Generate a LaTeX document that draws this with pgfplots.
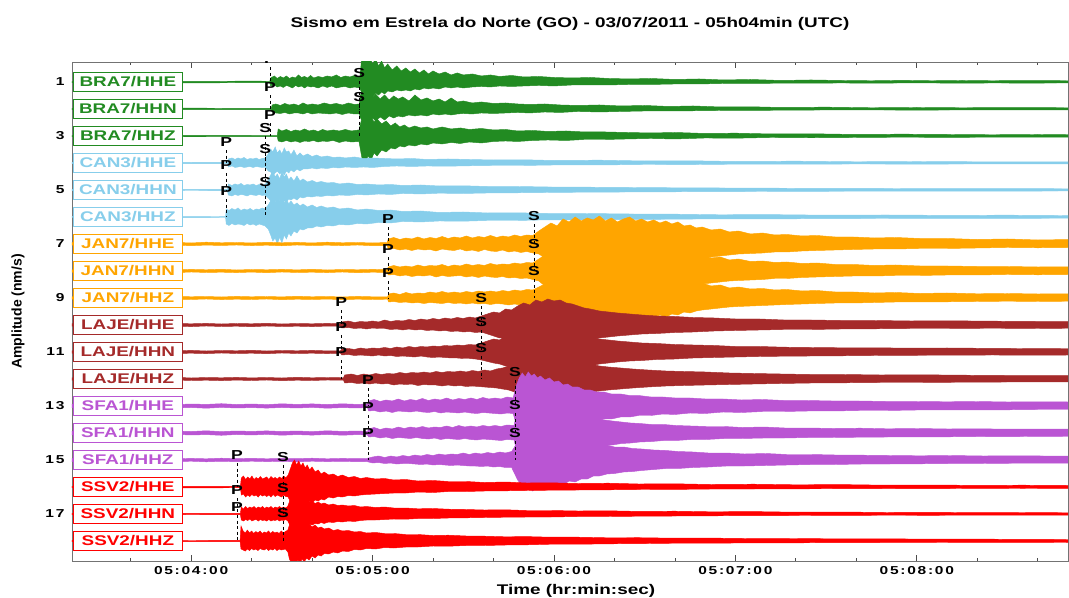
\documentclass[border=0pt]{standalone}
\usepackage{fontspec}
\setmainfont{Liberation Sans}
\newfontfamily\wfont{Liberation Sans}[FakeStretch=1.35]
\newfontfamily\tfont{Liberation Sans}[FakeStretch=1.35,LetterSpace=15]
\usepackage{pgfplots}
\usepackage{pgfplotstable}
\pgfplotsset{compat=1.18}
\usepgfplotslibrary{fillbetween}

\definecolor{cBRA}{RGB}{34,139,34}
\definecolor{cCAN}{RGB}{135,206,235}
\definecolor{cJAN}{RGB}{255,165,0}
\definecolor{cLAJ}{RGB}{165,42,42}
\definecolor{cSFA}{RGB}{186,85,211}
\definecolor{cSSV}{RGB}{255,0,0}

% envelopes: t = seconds after 05:04:00, u/d = half amplitude up/down (px, 27 px per trace)
\pgfplotstableread{
t u d
-40 0.7 0.7
-20 0.9 0.6
0 0.6 0.9
20 0.8 0.7
26.0 0.7 0.7
26.3 4 4
27.5 6 3
28.5 3.5 5
29.5 5.5 4
30.5 4 5.5
31.5 6 3.5
32.5 3.5 4.5
33.5 5 6
34.5 4 3.5
35.5 7 5
36.5 4.5 4
37.5 5.5 6
38.5 4 4
39.5 6.5 5
40.5 4 4.5
42 5.5 6
43.5 4.5 4
45 6 5.5
46.5 5 4
48 7 6
49.5 4.5 5
51 6 4.5
52.5 5 6
54 6.5 5
55.8 5 6
56.3 20 10
57 26 14
58 22 16
59 25 12
60 18 15
61 23 11
62 16 13
63 21 10
64 14 12
65 18 9
66.5 12 10
68 16 8
69.5 11 9
71 14 8
72.5 10 9
74 13 7
75.5 9 8
77 12 6
78.5 8 7
80 11 6
82 8 7
84 10 5
86 7 6
88 9 5
90 7 6
93 8 5
96 6 4.5
99 7 5
102 5.5 4
106 6.5 4.5
110 5 4
115 5.5 3.5
120 4.5 4
126 4 3
132 4.5 3
138 3.5 3
145 3 2.5
152 3.5 2.5
160 2.5 2
168 3 2
176 2 1.5
185 2.5 1.5
195 1.5 1.2
205 2 1.2
215 1.5 1
225 1.2 1.2
235 1.6 1
245 1.2 1
255 1.5 1.2
265 1.2 1
275 1.4 1.1
291 1.2 1
}\tA
\pgfplotstableread{
t u d
-40 0.7 0.7
-20 0.6 0.8
0 0.8 0.6
20 0.6 0.7
26.5 0.7 0.7
26.8 4 3
28 5 4
29.5 3.5 4.5
31 5.5 3.5
32.5 4 5
34 5 4
35.5 3.5 4
37 6 5
38.5 4 3.5
40 5 5
42 4 4
44 6 4.5
46 4.5 5
48 5.5 4
50 4 5.5
52 6 4
54 4.5 5
55.6 5 5
56.0 14 9
57 18 13
58 13 10
59 17 15
60 12 9
61 15 12
62.5 10 8
64 14 11
65.5 9 7
67 13 9
68.5 10 7
70 12 8
72 8 6
74 14 7
76 9 6
78 11 7
80 8 5
82 10 6
84 7 5
86 11 6
88 7 5
90 8 4.5
93 6 5
96 7 4
100 5.5 4.5
104 6 4
108 5 3.5
112 4.5 4
117 5 3
122 4 3.5
128 3.5 2.5
135 4 3
142 3 2.5
150 3.5 2
158 2.5 2
166 3 1.8
175 2 1.5
185 2.2 1.5
195 1.5 1.2
210 1.8 1
225 1.2 1
240 1.5 1.1
255 1.2 1
270 1.4 1
291 1.2 1
}\tB
\pgfplotstableread{
t u d
-40 0.7 0.7
-20 0.8 0.6
0 0.6 0.8
20 0.7 0.7
28.5 0.7 0.7
28.8 7 5
30 5 6
31.5 6.5 4.5
33 4.5 6
34.5 6 5
36 5 6.5
37.5 7 5
39 5 5.5
40.5 6 4.5
42 4.5 6
43.5 6.5 5
45 5 5.5
47 6 4.5
49 5 6.5
51 6.5 5
53 5 6
55.5 6 5.5
56.5 18 22
57.5 21 26
58.5 16 20
59.5 19 24
60.5 14 17
61.5 17 20
63 12 14
64.5 15 16
66 10 12
67.5 13 13
69 9 10
70.5 11 11
72 8 9
74 10 10
76 8 8
78 9 9
80 7 7
83 9 8
86 7 6.5
89 8 7.5
92 6.5 6
96 7.5 7
100 6 5.5
104 6.5 5
108 5 5.5
113 5.5 4.5
118 4.5 4
124 5 4.5
130 4 3.5
137 4 3.5
144 3.5 3
152 3 2.5
160 3.5 3
170 2.5 2
180 2.8 2.2
192 2 1.5
205 2.2 1.8
220 1.5 1.5
235 1.8 1.2
250 1.5 1.4
265 1.2 1.2
280 1.5 1.2
291 1.2 1.2
}\tC
\pgfplotstableread{
t u d
-40 0.6 0.6
-20 0.7 0.5
0 0.5 0.7
12.0 0.6 0.6
12.3 4 4
13.5 5 3
14.5 3.5 4.5
15.5 5 4
16.5 4 3.5
17.5 5.5 4.5
18.5 3.5 4
19.5 4.5 3.5
20.5 4 4.5
21.5 5 3.5
22.5 3.5 4
23.5 4.5 4.5
24.5 5 4
25.5 9 8
26.3 14 9
27 11 12
27.8 16 10
28.5 10 8
29.3 13 11
30 9 9
30.8 15 12
31.5 11 8
32.3 12 10
33 8 7
34 13 9
35 7 6
36 10 8
37 7 6
38.5 9 6
40 6.5 5
41.5 8 6
43 6 5
45 7 5.5
47 5.5 4.5
49 6 5
51 5 4
54 6 4.5
57 4.5 4
60 5 4.5
64 4.5 3.5
68 4 3
73 4.5 3.5
78 3.5 3
85 4 3.2
92 3.5 2.8
100 3 2.5
110 3.2 2.5
120 2.5 2
135 2.8 2
150 2 1.5
165 2.2 1.6
180 1.5 1.2
200 1.8 1.2
220 1.2 1
240 1.5 1.1
260 1.2 1
291 1 1
}\tD
\pgfplotstableread{
t u d
-40 0.6 0.6
-20 0.5 0.7
0 0.7 0.5
12.0 0.6 0.6
12.3 6 5
13.5 4.5 6
14.5 6 4.5
15.5 5 5.5
16.5 6.5 4.5
17.5 4.5 5
18.5 5.5 6
19.5 5 4.5
20.5 6 5
21.5 4.5 5.5
22.5 5.5 4.5
23.5 5 5.5
24.5 5.5 5
25.5 10 8
26.3 15 11
27 19 14
27.8 13 10
28.5 16 13
29.3 11 9
30 18 14
30.8 13 11
31.5 16 12
32.3 10 9
33 13 10
34 9 8
35 14 10
36 9 7
37 11 8
38.5 8 6.5
40 9.5 7
41.5 7.5 6
43 8.5 6.5
45 7 5.5
47 7.5 6
49 6 5
52 7 5.5
55 5.5 4.5
58 6 5
62 5 4
66 5.5 4.5
70 4.5 3.5
76 5 4
82 4 3.2
90 4.2 3.5
98 3.5 3
108 3.5 2.8
118 3 2.5
130 2.8 2.2
145 2.5 2
160 2.2 1.8
175 2 1.6
190 1.8 1.5
210 1.6 1.3
230 1.5 1.2
250 1.3 1.1
270 1.4 1.1
291 1.2 1
}\tE
\pgfplotstableread{
t u d
-40 0.5 0.5
-20 0.6 0.4
0 0.4 0.6
11.4 0.5 0.5
11.6 8 7
12.5 6.5 8.5
13.5 8.5 6.5
14.5 7 8
15.5 9 7
16.5 6.5 7.5
17.5 8 8.5
18.5 7 6.5
19.5 8.5 8
20.5 6.5 7
21.5 8 8.5
22.5 7.5 7
23.5 9 8
24.5 8 9
25.5 12 12
26.3 16 18
27 20 24
27.8 15 21
28.5 21 27
29.3 16 20
30 19 26
30.8 14 18
31.5 18 22
32.3 13 16
33 16 19
34 12 14
35 14 16
36 11 12
37 13 13
38.5 10 11
40 12 11
41.5 9.5 9
43 11 10
45 9 8.5
47 10 9
49 8 7.5
52 9 8
55 7 6.5
58 8 7
62 6.5 5.5
66 7 6
70 5.5 4.5
76 6 5
82 4.5 4
90 5 4.2
98 4 3.5
108 4.2 3.5
118 3.5 2.8
130 3.5 3
145 3 2.5
160 2.8 2.2
175 2.2 1.8
190 2.4 2
210 1.8 1.6
230 2 1.5
250 1.6 1.3
270 1.8 1.4
291 1.4 1.2
}\tF
\pgfplotstableread{
t u d
-40 1.2 1.2
-35 1.8 1.0
-30 1.0 1.6
-25 1.5 1.2
-20 1.0 1.8
-15 1.7 1.0
-10 1.2 1.5
-5 1.6 1.2
0 1.0 1.7
5 1.8 1.1
10 1.2 1.5
15 1.5 1.0
20 1.0 1.6
25 1.7 1.2
30 1.2 1.8
35 1.6 1.0
40 1.0 1.5
45 1.8 1.2
50 1.2 1.6
55 1.5 1.0
60 1.0 1.7
64.8 1.5 1.5
65.2 5 5
67 6.5 4.5
69 4.5 6
71 6 5
73 5 6.5
75 7 5
77 5 6
79 6.5 5.5
81 5.5 7
83 7.5 5
85 5.5 6
87 7 6.5
89 6 5
91 8 7
93 6 6
95 7.5 7.5
97 6.5 5.5
99 8.5 7
101 6.5 7.5
103 8 6
105 7 8
107 9 7
109 7.5 8.5
111 9 7.5
113 8.5 9
115 13 10
117 17 14
119 21 19
121 18 22
123 25 20
125 22 25
127 27 22
129 23 26
131 26 23
133 24 27
135 28 22
137 23 25
139 26 23
141 22 26
143 25 22
145 27 24
147 23 21
149 25 24
151 22 20
153 24 23
155 21 19
157 23 22
159 20 18
161 22 20
163 18 17
165 19 16
167 16 15
169 17 14
172 14 13
175 15 12
178 12 11
181 13 10
185 10 9.5
189 11 9
193 9 8
197 9.5 8
202 8 7
207 8.5 6.5
213 7 6
219 7 5.5
226 6 5
233 6.5 5
241 5.5 4.5
250 5.5 4.5
260 4.5 4
270 5 3.5
280 4 3.8
291 4.5 3.5
}\tG
\pgfplotstableread{
t u d
-40 1.2 1.2
-35 1.0 1.7
-30 1.6 1.1
-25 1.2 1.5
-20 1.7 1.0
-15 1.0 1.6
-10 1.5 1.2
-5 1.1 1.7
0 1.6 1.0
5 1.2 1.5
10 1.7 1.2
15 1.0 1.6
20 1.5 1.1
25 1.2 1.7
30 1.6 1.0
35 1.1 1.5
40 1.7 1.2
45 1.0 1.6
50 1.5 1.0
55 1.2 1.7
60 1.6 1.2
64.8 1.2 1.5
65.2 4 4
67 5.5 3.5
69 4 5
71 5 4
73 4 5.5
75 6 4.5
77 4.5 5
79 5.5 4
81 5 6
83 6.5 4.5
85 4.5 5.5
87 6 5
89 5 4.5
91 7 6
93 5.5 5
95 6.5 6.5
97 5.5 5
99 7.5 6
101 6 6.5
103 7 5.5
105 6.5 7
107 8 6.5
109 7 7.5
111 8.5 7
113 8 8.5
115 12 10
117 16 15
119 20 17
121 17 21
123 23 19
125 21 24
127 25 21
129 22 25
131 26 22
133 23 26
135 25 22
137 22 25
139 26 23
141 23 24
143 25 21
145 24 25
147 22 21
149 25 23
151 21 20
153 23 22
155 20 19
157 22 20
159 19 18
161 21 17
163 17 16
165 18 15
167 15 14
169 16 13
172 13 12
175 14 11
178 11 10
181 12 9.5
185 9.5 9
189 10 8.5
193 8.5 7.5
197 9 7.5
202 7.5 6.5
207 8 6
213 6.5 5.5
219 6.5 5
226 5.5 5
233 6 4.5
241 5 4.5
250 5 4
260 4.5 4
270 4.5 3.5
280 4 3.8
291 4.2 3.5
}\tH
\pgfplotstableread{
t u d
-40 1.2 1.2
-35 1.5 1.0
-30 1.1 1.6
-25 1.6 1.2
-20 1.2 1.5
-15 1.5 1.1
-10 1.0 1.7
-5 1.7 1.2
0 1.2 1.5
5 1.5 1.0
10 1.0 1.6
15 1.6 1.2
20 1.2 1.5
25 1.5 1.0
30 1.1 1.7
35 1.7 1.2
40 1.2 1.5
45 1.5 1.1
50 1.0 1.6
55 1.6 1.2
60 1.2 1.5
65.0 1.2 1.2
65.3 4 4
67 5 3.5
69 3.5 4.5
71 5.5 4
73 4 5
75 5 4.5
77 4.5 5.5
79 6 4.5
81 5 5
83 6.5 5.5
85 5 4.5
87 6 5.5
89 5 5
91 6.5 6
93 5.5 5
95 7 6
97 6 5.5
99 7 6.5
101 6 5.5
103 7.5 6
105 6.5 7
107 8 6
109 7 7
111 8.5 7
113 8 7.5
115 11 9
117 14 11
119 13 14
121 18 15
123 16 18
125 21 17
127 19 20
129 23 18
131 21 21
133 24 19
135 22 22
137 25 20
139 22 21
141 24 19
143 21 22
145 25 20
147 22 19
149 23 21
151 20 18
153 22 20
155 19 17
157 21 19
159 18 16
161 20 17
163 16 14
165 17 15
167 14 13
169 15 12
172 12 11
175 13 10
178 10 9
181 11 8.5
185 9 8
189 9.5 7.5
193 8 7
197 8.5 6.5
202 7 6
207 7.5 5.5
213 6 5
219 6 5
226 5 4.5
233 5.5 4
241 4.5 4
250 5 3.8
260 4.2 3.5
270 4.5 3.2
280 4 3.5
291 4.2 3.2
}\tI
\pgfplotstableread{
t u d
-40 1.2 1.2
-35 1.6 1.0
-30 1.0 1.5
-25 1.5 1.2
-20 1.2 1.7
-15 1.7 1.0
-10 1.0 1.5
-5 1.5 1.2
0 1.2 1.6
5 1.6 1.0
10 1.0 1.5
15 1.5 1.2
20 1.2 1.7
25 1.7 1.0
30 1.0 1.5
35 1.5 1.2
40 1.2 1.6
45 1.6 1.1
49.4 1.2 1.2
49.8 3 3
52 4 2.5
54 2.5 3.5
56 3.5 3
58 3 4
60 4 3
62 3 3.5
64 5 3.5
66 3.5 4.5
68 4.5 4
70 4 5
72 5.5 4
74 4.5 5
76 6 4.5
78 5 5.5
80 6.5 5
82 5.5 6
84 7 5.5
86 6 6.5
88 7.5 6
90 6.5 7
92 8 6.5
94 7 7.5
96 9 7
98 11 9
100 13 11
102 12 13
104 16 13
106 15 16
108 19 16
110 22 19
112 20 22
114 25 21
116 23 25
118 26 23
120 24 25
122 25 22
124 22 23
126 21 19
128 19 18
130 17 16
132 16 15
135 14 13
138 13 12
141 12 11
145 11 10
149 10 9
154 9 8.5
160 8.5 7.5
166 7.5 7
173 7 6
180 6 5.5
188 6 5
196 5 4.5
205 5 4.5
215 4.5 4
226 4.5 3.8
238 4 3.5
250 4.2 3.5
265 3.8 3.2
280 3.5 3.5
291 3.5 3.2
}\tJ
\pgfplotstableread{
t u d
-40 1.2 1.2
-35 1.0 1.6
-30 1.5 1.1
-25 1.2 1.5
-20 1.7 1.2
-15 1.0 1.7
-10 1.5 1.0
-5 1.2 1.5
0 1.6 1.2
5 1.0 1.6
10 1.5 1.0
15 1.2 1.5
20 1.7 1.2
25 1.0 1.7
30 1.5 1.0
35 1.2 1.5
40 1.6 1.2
45 1.1 1.6
49.4 1.2 1.2
49.8 3 3
52 3.5 2.5
54 2.5 3.5
56 4 3
58 3 3.5
60 4 4
62 3.5 3
64 4.5 4
66 3.5 3.5
68 5 4.5
70 4 4
72 5.5 4.5
74 4.5 5
76 5.5 4
78 5 5
80 6 5.5
82 5.5 5
84 6.5 5.5
86 6 6
88 7 6
90 6.5 6.5
92 7.5 6.5
94 7 7
96 9 8
98 11 9.5
100 13 11
102 12 12
104 16 14
106 15 15
108 19 17
110 21 19
112 20 21
114 24 21
116 23 24
118 25 22
120 23 24
122 24 21
124 21 22
126 20 18
128 18 17
130 16 15
132 15 14
135 13 12
138 12 11
141 11 10
145 10 9
149 9 8.5
154 8.5 7.5
160 7.5 7
166 7 6
173 6.5 5.5
180 5.5 5
188 5.5 4.5
196 4.8 4.2
205 4.5 4
215 4.2 3.8
226 4.2 3.5
238 3.8 3.3
250 4 3.2
265 3.6 3
280 3.4 3.2
291 3.5 3
}\tK
\pgfplotstableread{
t u d
-40 1.2 1.2
-35 1.5 1.1
-30 1.1 1.6
-25 1.6 1.0
-20 1.0 1.5
-15 1.5 1.2
-10 1.2 1.7
-5 1.7 1.0
0 1.0 1.5
5 1.5 1.2
10 1.2 1.6
15 1.6 1.1
20 1.1 1.5
25 1.5 1.0
30 1.0 1.7
35 1.7 1.2
40 1.2 1.5
45 1.5 1.0
50.4 1.2 1.2
50.8 4 4
53 5 3.5
55 3.5 4.5
57 5 4
59 4 5
61 5.5 4
63 4.5 5
65 5.5 4.5
67 5 6
69 6.5 5
71 5.5 5.5
73 6.5 5
75 6 6.5
77 7 5.5
79 6 6
81 7.5 6
83 6.5 7
85 7.5 6
87 7 7
89 8 6.5
91 7 7.5
93 8.5 7
95 7.5 7.5
97 9 8
99 8 8.5
101 10 9
103 11 10
105 13 11
107 15 13
109 19 16
111 22 19
113 25 21
115 23 22
117 26 20
119 24 22
121 25 19
123 22 20
125 21 17
127 19 16
129 17 15
132 15 13
135 13 12
138 12 11
142 11 10
146 10 9
151 9 8
157 8 7
163 7.5 6.5
170 7 6
178 6 5.5
186 5.5 5
195 5 4.5
205 4.5 4
216 4.5 3.8
228 4 3.5
241 4.2 3.5
255 3.8 3.2
270 3.5 3
291 3.5 3
}\tL
\pgfplotstableread{
t u d
-40 2 1.5
-35 1.5 2.2
-30 2.3 1.5
-25 1.6 2
-20 2.1 1.4
-15 1.5 2.3
-10 2.2 1.6
-5 1.4 2
0 2 1.5
5 1.6 2.2
10 2.3 1.4
15 1.5 2
20 2 1.6
25 1.4 2.1
30 2.2 1.5
35 1.6 2
40 2.1 1.4
45 1.5 2.2
50 2.2 1.6
55 1.6 2
58.3 2 1.5
58.7 5 5
60.5 6.5 4.5
62.5 4.5 6
64.5 6 5
66.5 5 6.5
68.5 7 5
70.5 5 5.5
72.5 6.5 6
74.5 5.5 5
76.5 7.5 6
78.5 5.5 6.5
80.5 7 5.5
82.5 6 7
84.5 8 6
86.5 6 6.5
88.5 7.5 7
90.5 6.5 6
92.5 8 7
94.5 6.5 7.5
96.5 8.5 6.5
98.5 7 7
100.5 8 7.5
102.5 7 8
104.5 9 7
106.5 8 7.5
107.5 20 18
108.5 28 26
109.5 33 30
110.5 29 33
111.5 34 29
112.5 30 32
113.5 32 28
114.5 28 31
115.5 30 27
117 26 29
118.5 28 25
120 24 26
121.5 25 22
123 21 23
124.5 22 20
126 19 20
128 19 17
130 16 17
132 16 15
134 14 15
136.5 14 13
139 12 13
142 12 11
145 10.5 11
148 10.5 9.5
152 9 9.5
156 9 8
160 8 8.5
165 8 7
170 7 7.5
176 7 6
182 6 6.5
189 6.5 5.5
196 5.5 5.5
204 5.5 5
212 5 5
221 5 4.5
230 4.5 4.5
240 4.5 4
250 4.2 4
260 4.5 3.8
270 4 3.8
280 4.2 3.5
291 4 3.5
}\tM
\pgfplotstableread{
t u d
-40 1.5 2
-35 2.2 1.5
-30 1.5 2.2
-25 2 1.6
-20 1.4 2.1
-15 2.3 1.5
-10 1.6 2.2
-5 2 1.4
0 1.5 2
5 2.2 1.6
10 1.4 2.3
15 2 1.5
20 1.6 2
25 2.1 1.4
30 1.5 2.2
35 2 1.6
40 1.4 2.1
45 2.2 1.5
50 1.6 2.2
55 2 1.6
58.3 1.5 2
58.7 4 4
60.5 5.5 3.5
62.5 3.5 5
64.5 5 4
66.5 4 5.5
68.5 6 4.5
70.5 4.5 5
72.5 6 5.5
74.5 5 4.5
76.5 6.5 5.5
78.5 5 6
80.5 6 5
82.5 5.5 6.5
84.5 7 5.5
86.5 5.5 6
88.5 7.5 6.5
90.5 6 5.5
92.5 7 6.5
94.5 6 7
96.5 7.5 6
98.5 6.5 6.5
100.5 7.5 7
102.5 6.5 7.5
104.5 8 6.5
106.8 7.5 7
107.8 22 20
108.8 28 25
109.8 32 29
110.8 29 32
111.8 34 29
112.8 30 31
113.8 32 28
114.8 28 31
115.8 30 27
117.3 27 29
118.8 28 25
120.3 24 26
121.8 25 22
123.3 21 23
124.8 22 20
126.3 19 19
128.3 18 17
130.3 16 17
132.3 15 14
134.3 14 14
136.8 13 12
139.3 12 12
142.3 11 10.5
145.3 10 10
148.3 9.5 9
152.3 8.5 8.5
156.3 8.5 7.5
160.3 7.5 7.5
165.3 7 6.5
170.3 6.5 6.5
176.3 6.5 5.5
182.3 5.5 5.5
189.3 6 5
196.3 5 5
204.3 5 4.5
212.3 4.5 4.5
221.3 4.8 4.2
230.3 4.2 4
240.3 4.5 3.8
250.3 4 3.8
260.3 4.2 3.5
270.3 3.8 3.6
280.3 4 3.4
291 3.8 3.5
}\tN
\pgfplotstableread{
t u d
-40 1.5 1.5
-35 1.2 1.8
-30 1.8 1.2
-25 1.3 1.6
-20 1.7 1.2
-15 1.2 1.8
-10 1.8 1.3
-5 1.3 1.6
0 1.6 1.2
5 1.2 1.8
10 1.8 1.3
15 1.3 1.7
20 1.7 1.2
25 1.2 1.6
30 1.6 1.3
35 1.3 1.8
40 1.8 1.2
45 1.2 1.6
50 1.6 1.3
55 1.3 1.7
58 1.5 1.5
60 3 3
62 4 2.5
64 2.5 3.5
66 4 3
68 3 4
70 4.5 3.5
72 3.5 3.5
74 5 4
76 4 4.5
78 5.5 4
80 4.5 5
82 6 4.5
84 5 5
86 6 5.5
88 5.5 5
90 7 5.5
92 5.5 6
94 7 6
96 6 6.5
98 7.5 6
100 6.5 7
102 8 6.5
104 7 7.5
106 8.5 7.5
108 18 20
109 24 24
110 29 27
111 26 30
112 31 28
113 28 31
114 30 27
115 27 29
116 29 26
117.5 26 28
119 28 25
120.5 25 27
122 26 23
123.5 23 24
125 24 21
127 21 22
129 20 19
131 18 19
133 17 16
135 15 16
137.5 15 14
140 13 13.5
143 13 12
146 11.5 11.5
149 11 10.5
153 10 9.5
157 9.5 8.5
161 8.5 8.5
166 8 7.5
171 7 7
177 7 6
183 6 6
190 6.5 5.5
197 5.5 5
205 5.5 4.5
213 5 4.5
222 4.8 4
231 4.5 4
241 4.2 3.8
251 4.5 3.5
262 4 3.5
273 4.2 3.2
291 3.8 3.2
}\tO
\pgfplotstableread{
t u d
-40 0.7 0.7
-20 0.9 0.6
0 0.6 0.9
16.3 0.7 0.7
16.6 9 8
17.3 11 7
18 7.5 10
18.7 10 8
19.4 8 9.5
20.1 11 7.5
20.8 7.5 9
21.5 9.5 8
22.2 8 10
22.9 10.5 7.5
23.6 8 9
24.3 9 8
25 10 9.5
25.7 7.5 8
26.4 10.5 10
27.1 8.5 7.5
27.8 9.5 9.5
28.5 8 8
29.2 10 9
29.9 8.5 10
30.6 11 8
31.3 9 9.5
32.1 12 10
32.8 18 15
33.5 24 19
34.2 27 22
34.9 22 18
35.6 26 21
36.3 21 17
37 24 20
37.7 19 16
38.4 22 18
39.2 17 14
40 20 16
41 15 13
42 17 14
43 13 12
44 15 13
45.5 12 10
47 13 11
48.5 10.5 9.5
50 12 10
52 9.5 8.5
54 10.5 9
56 8.5 8
58 9.5 7.5
61 8 7
64 8.5 6.5
67 7 6
71 7.5 6
75 6 5
80 6.5 5.5
85 5.5 4.5
91 5.5 4.5
97 4.5 4
104 5 3.8
111 4 3.5
119 4.2 3.2
128 3.5 3
138 3.8 2.8
148 3 2.5
160 3.2 2.4
172 2.5 2
186 2.8 2
200 2.2 1.8
215 2.4 1.7
230 1.8 1.5
245 2 1.6
260 1.6 1.4
275 1.8 1.5
291 1.5 1.4
}\tP
\pgfplotstableread{
t u d
-40 0.6 0.6
-20 0.5 0.7
0 0.7 0.5
16.3 0.6 0.6
16.6 7 6
17.3 5 7
18 7.5 5.5
18.7 5.5 6.5
19.4 7 5
20.1 6 7
20.8 7.5 6
21.5 5.5 5.5
22.2 7 7
22.9 6 5.5
23.6 7.5 6.5
24.3 5.5 6
25 7 7
25.7 6 5.5
26.4 7.5 7
27.1 5.5 6
27.8 7 6.5
28.5 6 5.5
29.2 7.5 7
29.9 6 6
30.6 7 6.5
31.3 6 5.5
32 8 7
32.6 13 11
33.3 17 14
34 19 16
34.7 15 13
35.4 18 15
36.1 14 12
36.8 16 14
37.5 13 11
38.3 15 13
39.1 12 10
40 13 11
41 10.5 9.5
42 12 10
43 10 8.5
44 11 9.5
45.5 9 8
47 10 8.5
48.5 8.5 7.5
50 9 8
52 8 7
54 8.5 7.5
56 7 6.5
58 7.5 6
61 6.5 6
64 7 5.5
67 6 5
71 6 5.2
75 5.2 4.5
80 5.5 4.5
85 4.8 4
91 4.5 3.8
97 4 3.5
104 4.2 3.2
111 3.5 3
119 3.5 3
128 3 2.5
138 3.2 2.5
148 2.6 2.2
160 2.8 2
172 2.2 1.8
186 2.4 1.6
200 1.8 1.5
215 2 1.4
230 1.5 1.2
245 1.7 1.3
260 1.3 1.1
275 1.5 1.2
291 1.2 1.2
}\tQ
\pgfplotstableread{
t u d
-40 0.6 0.6
-20 0.7 0.5
0 0.5 0.7
16.2 0.6 0.6
16.5 15 8
17.2 10 9
17.9 8 10
18.6 11 8
19.3 8 9.5
20 10 7.5
20.7 7.5 9
21.4 9.5 8
22.1 8 9.5
22.8 10 7.5
23.5 7.5 8.5
24.2 9 9
24.9 8 7.5
25.6 10 9.5
26.3 7.5 8
27 9.5 9
27.7 8 7.5
28.4 9 9.5
29.1 7.5 8
29.8 10 9
30.5 8 8.5
31.2 9.5 8
32 11 11
32.5 16 18
33.2 20 22
33.9 17 21
34.6 21 23
35.3 18 19
36 20 22
36.7 16 18
37.4 19 21
38.2 15 17
39 17 19
40 14 15
41 16 17
42 13 14
43 14 15
44 12 12.5
45.5 13 13
47 10.5 11
48.5 11.5 12
50 10 10
52 10.5 10.5
54 9 8.5
56 9.5 9
58 8 7.5
61 8.5 8
64 7.5 6.5
67 7.5 7
71 6.5 6
75 6.5 6
80 5.5 5
85 5.8 5.2
91 5 4.5
97 4.8 4.5
104 4.2 4
111 4.4 3.8
119 3.8 3.2
128 3.8 3.2
138 3.2 2.8
148 3.3 2.6
160 2.8 2.2
172 2.9 2.2
186 2.4 1.8
200 2.5 1.8
215 2.1 1.6
230 2.2 1.5
245 1.8 1.5
260 1.9 1.4
275 1.6 1.4
291 1.5 1.5
}\tR

\newcommand{\trace}[3]{%
  \addplot[draw=none, forget plot, name path=u#2] table[x=t, y expr=#2-\thisrow{u}/27] {#1};
  \addplot[draw=none, forget plot, name path=d#2] table[x=t, y expr=#2+\thisrow{d}/27] {#1};
  \addplot[fill=#3, draw=#3, line width=0.45pt, forget plot] fill between[of=u#2 and d#2];
}
\newcommand{\pick}[4]{%
  \draw[black, line width=0.8pt, dash pattern=on 3pt off 2.5pt] (axis cs:#1,{#3+0.3}) -- (axis cs:#1,#2);
  \node[inner sep=0pt, font=\wfont\bfseries\fontsize{13}{13}\selectfont] at (axis cs:#1,#3) {#4};
}
\newcommand{\lbl}[3]{%
  \node[draw=#3, fill=white, line width=0.9pt, minimum width=109pt, minimum height=19pt,
        inner sep=0pt, anchor=west, text=#3, font=\wfont\bfseries\fontsize{14}{14}\selectfont]
        at (axis cs:-39.1,#2) {#1};
}

\begin{document}
\begin{tikzpicture}
\begin{axis}[name=ax, scale only axis, width=996pt, height=499pt,
  xmin=-39.4, xmax=290, ymin=0.26, ymax=18.74, y dir=reverse,
  axis line style={draw=black!55, line width=0.8pt},
  xtick={0,60,120,180,240},
  xticklabels={05:04:00,05:05:00,05:06:00,05:07:00,05:08:00},
  minor xtick={-20,20,40,80,100,140,160,200,220,260,280},
  xtick pos=both, tick align=inside,
  major tick length=6pt, minor tick length=3pt,
  every tick/.style={black!70, line width=0.8pt},
  ytick={1,3,...,17}, ytick style={draw=none},
  /pgf/number format/assume math mode=true,
  yticklabel style={font=\tfont\bfseries\fontsize{11.5}{13}\selectfont, xshift=-4pt},
  xticklabel style={font=\tfont\bfseries\fontsize{11.5}{13}\selectfont, yshift=-2pt},
  title={Sismo em Estrela do Norte (GO) - 03/07/2011 - 05h04min (UTC)},
  every axis title/.style={font=\wfont\bfseries\fontsize{14}{16}\selectfont, at={(axis description cs:0.5,1.0701)}, anchor=base},
  xlabel={Time (hr:min:sec)},
  every axis x label/.style={font=\wfont\bfseries\fontsize{14}{16}\selectfont, at={(axis description cs:0.506,-0.0681)}, anchor=base},
  ylabel={Amplitude (nm/s)},
  every axis y label/.style={font=\bfseries\fontsize{14}{16}\selectfont, at={(axis description cs:-0.0542,0.5)}, anchor=center, rotate=90},
]
\trace{\tA}{1}{cBRA}
\trace{\tB}{2}{cBRA}
\trace{\tC}{3}{cBRA}
\trace{\tD}{4}{cCAN}
\trace{\tE}{5}{cCAN}
\trace{\tF}{6}{cCAN}
\trace{\tG}{7}{cJAN}
\trace{\tH}{8}{cJAN}
\trace{\tI}{9}{cJAN}
\trace{\tJ}{10}{cLAJ}
\trace{\tK}{11}{cLAJ}
\trace{\tL}{12}{cLAJ}
\trace{\tM}{13}{cSFA}
\trace{\tN}{14}{cSFA}
\trace{\tO}{15}{cSFA}
\trace{\tP}{16}{cSSV}
\trace{\tQ}{17}{cSSV}
\trace{\tR}{18}{cSSV}

\pick{26.1}{1}{0.148}{P}
\pick{26.1}{2}{1.185}{P}
\pick{26.1}{3}{2.222}{P}
\pick{55.6}{2}{0.667}{S}
\pick{55.6}{3}{1.556}{S}
\pick{11.6}{4}{3.222}{P}
\pick{11.6}{5}{4.074}{P}
\pick{11.6}{6}{5.037}{P}
\pick{24.5}{4}{2.704}{S}
\pick{24.5}{5}{3.481}{S}
\pick{24.5}{6}{4.704}{S}
\pick{65.1}{7}{6.074}{P}
\pick{65.1}{8}{7.185}{P}
\pick{65.1}{9}{8.074}{P}
\pick{113.4}{7}{5.963}{S}
\pick{113.4}{8}{7.0}{S}
\pick{113.4}{9}{8.0}{S}
\pick{49.6}{10}{9.148}{P}
\pick{49.6}{11}{10.074}{P}
\pick{49.6}{12}{11.0}{P}
\pick{95.9}{10}{9.0}{S}
\pick{95.9}{11}{9.889}{S}
\pick{95.9}{12}{10.852}{S}
\pick{58.5}{13}{12.037}{P}
\pick{58.5}{14}{13.037}{P}
\pick{58.5}{15}{14.0}{P}
\pick{107.1}{13}{11.741}{S}
\pick{107.1}{14}{12.963}{S}
\pick{107.1}{15}{14.0}{S}
\pick{15.2}{16}{14.815}{P}
\pick{15.2}{17}{16.111}{P}
\pick{15.2}{18}{16.741}{P}
\pick{30.4}{16}{14.889}{S}
\pick{30.4}{17}{16.037}{S}
\pick{30.4}{18}{16.963}{S}

\lbl{BRA7/HHE}{1}{cBRA}
\lbl{BRA7/HHN}{2}{cBRA}
\lbl{BRA7/HHZ}{3}{cBRA}
\lbl{CAN3/HHE}{4}{cCAN}
\lbl{CAN3/HHN}{5}{cCAN}
\lbl{CAN3/HHZ}{6}{cCAN}
\lbl{JAN7/HHE}{7}{cJAN}
\lbl{JAN7/HHN}{8}{cJAN}
\lbl{JAN7/HHZ}{9}{cJAN}
\lbl{LAJE/HHE}{10}{cLAJ}
\lbl{LAJE/HHN}{11}{cLAJ}
\lbl{LAJE/HHZ}{12}{cLAJ}
\lbl{SFA1/HHE}{13}{cSFA}
\lbl{SFA1/HHN}{14}{cSFA}
\lbl{SFA1/HHZ}{15}{cSFA}
\lbl{SSV2/HHE}{16}{cSSV}
\lbl{SSV2/HHN}{17}{cSSV}
\lbl{SSV2/HHZ}{18}{cSSV}
\end{axis}
\pgfresetboundingbox
\path[use as bounding box] ([xshift=-72pt,yshift=-37pt]ax.south west) rectangle ([xshift=1pt,yshift=62pt]ax.north east);
\end{tikzpicture}
\end{document}
